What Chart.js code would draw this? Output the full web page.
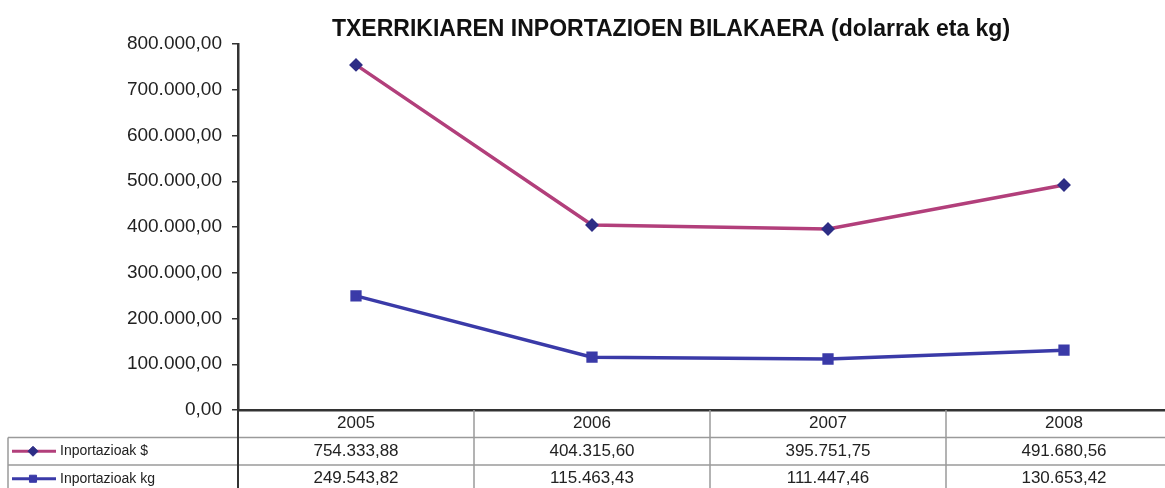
<!DOCTYPE html>
<html lang="eu">
<head>
    <meta charset="UTF-8">
    <title>Txerrikiaren inportazioen bilakaera</title>
    <style>
        html, body {
            margin: 0;
            padding: 0;
            background: #fff;
            overflow: hidden;
        }

        #wrap {
            position: relative;
            width: 1200px;
            height: 500px;
        }
    </style>
</head>
<body>
    <div id="wrap">
        <canvas id="chart"></canvas>
    </div>

    <script src="https://cdn.jsdelivr.net/npm/chart.js"></script>

    <script>
        const title = "TXERRIKIAREN INPORTAZIOEN BILAKAERA (dolarrak eta kg)";
        const years = ["2005", "2006", "2007", "2008"];
        const dollars = [754333.88, 404315.60, 395751.75, 491680.56];
        const kilos = [249543.82, 115463.43, 111447.46, 130653.42];
        const seriesNames = ["Inportazioak $", "Inportazioak kg"];
        const yTicks = [0, 100000, 200000, 300000, 400000, 500000, 600000, 700000, 800000];

        const pink = "#b23f7b";
        const navy = "#2d2d85";
        const blue = "#3a3aa8";

        // 754333.88 -> "754.333,88"
        function fmt(v) {
            const parts = v.toFixed(2).split(".");
            const int = parts[0].replace(/\B(?=(\d{3})+(?!\d))/g, ".");
            return int + "," + parts[1];
        }

        // title + data table under the plot
        const tablePlugin = {
            id: "tablePlugin",
            afterDraw(chart) {
                const ctx = chart.ctx;
                const xs = chart.scales.x;
                const area = chart.chartArea;
                const colW = (area.right - area.left) / years.length;
                const top = area.bottom;
                const rowH = 27.5;
                const tableLeft = 8;

                ctx.save();

                // title
                ctx.fillStyle = "#111";
                ctx.font = "bold 23px Arial, 'Liberation Sans', sans-serif";
                ctx.textAlign = "center";
                ctx.textBaseline = "middle";
                ctx.fillText(title, 671, 30);

                // grid lines of the table
                ctx.strokeStyle = "#9a9a9a";
                ctx.lineWidth = 1.5;
                for (let r = 1; r <= 3; r++) {
                    const y = top + r * rowH;
                    ctx.beginPath();
                    ctx.moveTo(tableLeft, y);
                    ctx.lineTo(area.right, y);
                    ctx.stroke();
                }
                ctx.beginPath();
                ctx.moveTo(tableLeft, top + rowH);
                ctx.lineTo(tableLeft, top + 4 * rowH);
                ctx.stroke();
                for (let i = 1; i < years.length; i++) {
                    const x = area.left + i * colW;
                    ctx.beginPath();
                    ctx.moveTo(x, top);
                    ctx.lineTo(x, top + 4 * rowH);
                    ctx.stroke();
                }
                ctx.strokeStyle = "#333";
                ctx.lineWidth = 2;
                ctx.beginPath();
                ctx.moveTo(area.left, top);
                ctx.lineTo(area.left, top + 4 * rowH);
                ctx.stroke();

                // cells
                ctx.fillStyle = "#222";
                ctx.font = "17px Arial, 'Liberation Sans', sans-serif";
                ctx.textAlign = "center";
                years.forEach((yr, i) => {
                    const cx = xs.getPixelForValue(i);
                    ctx.fillText(yr, cx, top + rowH * 0.5);
                    ctx.fillText(fmt(dollars[i]), cx, top + rowH * 1.5);
                    ctx.fillText(fmt(kilos[i]), cx, top + rowH * 2.5);
                });

                // legend keys
                const keys = [
                    { name: seriesNames[0], line: pink, mark: navy, style: "rectRot" },
                    { name: seriesNames[1], line: blue, mark: blue, style: "rect" }
                ];
                keys.forEach((k, j) => {
                    const y = top + rowH * (1.5 + j);
                    ctx.strokeStyle = k.line;
                    ctx.lineWidth = 3;
                    ctx.beginPath();
                    ctx.moveTo(12, y);
                    ctx.lineTo(56, y);
                    ctx.stroke();
                    ctx.fillStyle = k.mark;
                    ctx.strokeStyle = k.mark;
                    ctx.lineWidth = 1;
                    Chart.helpers.drawPoint(ctx, { pointStyle: k.style, radius: 5, borderWidth: 1 }, 33, y);
                    ctx.fillStyle = "#222";
                    ctx.textAlign = "left";
                    ctx.font = "14px Arial, 'Liberation Sans', sans-serif";
                    ctx.fillText(k.name, 60, y);
                });

                ctx.restore();
            }
        };

        new Chart(document.getElementById("chart"), {
            type: "line",
            data: {
                labels: years,
                datasets: [
                    {
                        label: seriesNames[0],
                        data: dollars,
                        borderColor: pink,
                        borderWidth: 3.5,
                        pointStyle: "rectRot",
                        pointRadius: 4.5,
                        pointBackgroundColor: navy,
                        pointBorderColor: navy,
                        tension: 0
                    },
                    {
                        label: seriesNames[1],
                        data: kilos,
                        borderColor: blue,
                        borderWidth: 3.5,
                        pointStyle: "rect",
                        pointRadius: 5.5,
                        pointBackgroundColor: blue,
                        pointBorderColor: blue,
                        tension: 0
                    }
                ]
            },
            options: {
                responsive: true,
                maintainAspectRatio: false,
                animation: false,
                layout: {
                    padding: { top: 44, bottom: 90, right: 18, left: 0 }
                },
                plugins: {
                    legend: { display: false },
                    title: { display: false },
                    tooltip: { enabled: false }
                },
                scales: {
                    x: {
                        offset: true,
                        ticks: { display: false },
                        grid: { drawOnChartArea: false, drawTicks: false },
                        border: { color: "#333", width: 2.5 },
                        afterFit(scale) { scale.height = 0; }
                    },
                    y: {
                        min: 0,
                        max: 800000,
                        afterBuildTicks(scale) {
                            scale.ticks = yTicks.map(v => ({ value: v }));
                        },
                        ticks: {
                            color: "#222",
                            font: { family: "Arial, 'Liberation Sans', sans-serif", size: 19 },
                            padding: 10,
                            callback: v => fmt(v)
                        },
                        grid: { drawOnChartArea: false, color: "#333", tickLength: 6, lineWidth: 1.5 },
                        border: { color: "#333", width: 2.5 },
                        afterFit(scale) { scale.width = 238; }
                    }
                }
            },
            plugins: [tablePlugin]
        });
    </script>
</body>
</html>
